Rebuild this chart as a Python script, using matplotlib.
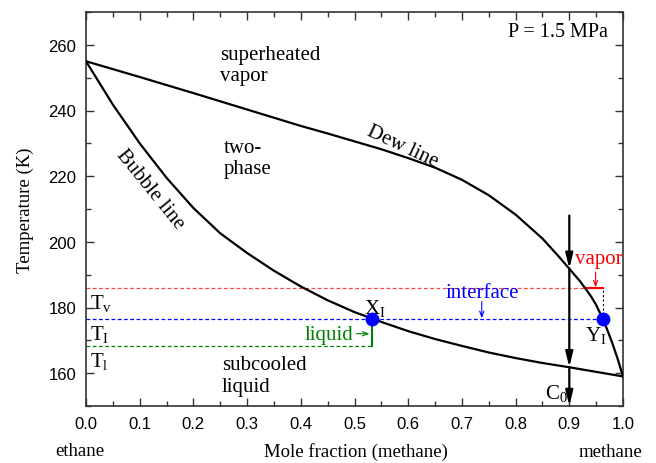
import numpy as np
import matplotlib
matplotlib.use("Agg")
import matplotlib.pyplot as plt
from matplotlib.ticker import MultipleLocator

# ---- data ----
dew_x = [0.0, 0.1, 0.2, 0.3, 0.4, 0.45, 0.5, 0.55, 0.6, 0.65, 0.7, 0.75, 0.8,
         0.85, 0.88, 0.9, 0.92, 0.94, 0.95, 0.96, 0.97, 0.98, 0.99, 1.0]
dew_T = [255.0, 250.2, 245.3, 240.3, 235.3, 233.0, 230.6, 228.2, 225.5, 222.6,
         218.9, 214.2, 208.3, 201.0, 195.6, 191.8, 188.0, 183.5, 180.8, 177.3,
         173.5, 169.2, 164.4, 159.0]
bub_x = [0.0, 0.05, 0.1, 0.15, 0.2, 0.25, 0.3, 0.35, 0.4, 0.45, 0.5, 0.55,
         0.6, 0.65, 0.7, 0.75, 0.8, 0.85, 0.9, 0.95, 1.0]
bub_T = [255.0, 241.8, 230.0, 219.5, 210.3, 202.6, 196.6, 191.2, 186.4, 182.2,
         178.6, 175.6, 172.8, 170.4, 168.3, 166.3, 164.6, 163.1, 161.8, 160.4, 159.0]

T_vapor = 185.9
T_interface = 176.5
T_liquid = 168.2
X_I = 0.532
Y_I = 0.962
C0 = 0.9
C0_top = 208.0
x_ticks = [0.0, 0.1, 0.2, 0.3, 0.4, 0.5, 0.6, 0.7, 0.8, 0.9, 1.0]
y_ticks = [160, 180, 200, 220, 240, 260]

plt.rcParams['mathtext.fontset'] = 'custom'
plt.rcParams['mathtext.rm'] = 'Liberation Serif'
plt.rcParams['mathtext.it'] = 'Liberation Serif'
SERIF = 'Liberation Serif'
SANS = 'Liberation Sans'

fig = plt.figure(figsize=(6.56, 4.64), dpi=100)
ax = fig.add_axes([86/656, 1-407/464, (623-86)/656, (407-13)/464])

ax.plot(dew_x, dew_T, color='black', lw=1.6, zorder=3, solid_joinstyle='round')
ax.plot(bub_x, bub_T, color='black', lw=1.6, zorder=3, solid_joinstyle='round')

# dashed temperature levels
ax.plot([0, Y_I], [T_vapor, T_vapor], color='#ff4444', lw=0.9, ls=(0, (3, 2)), zorder=2)
ax.plot([0, Y_I], [T_interface, T_interface], color='blue', lw=0.9, ls=(0, (3, 2)), zorder=2)
ax.plot([0, X_I], [T_liquid, T_liquid], color='green', lw=0.9, ls=(0, (3, 2)), zorder=2)
ax.plot([X_I, X_I], [T_liquid, T_interface], color='green', lw=1.5, zorder=2)
ax.plot([0.931, Y_I], [T_vapor, T_vapor], color='red', lw=1.5, zorder=2)
ax.plot([Y_I, Y_I], [T_interface, T_vapor], color='black', lw=0.8, ls=(0, (2, 2)), zorder=2)

# interface points
ax.plot([X_I, Y_I], [T_interface, T_interface], 'o', color='blue', ms=9, zorder=5)

# vertical composition line with arrows
T_dew_c = np.interp(C0, dew_x, dew_T)
T_bub_c = np.interp(C0, bub_x, bub_T)
ap = dict(arrowstyle='-|>,head_length=0.9,head_width=0.22', color='black', lw=1.6,
          shrinkA=0, shrinkB=0, mutation_scale=10)
for t0, t1 in [(C0_top, T_dew_c), (T_dew_c, T_bub_c), (T_bub_c, 150.0)]:
    ax.annotate('', xy=(C0, t1), xytext=(C0, t0), arrowprops=ap, zorder=4,
                annotation_clip=False)

# small annotation arrows
ax.annotate('', xy=(0.737, T_interface + 0.2), xytext=(0.737, 181.8),
            arrowprops=dict(arrowstyle='->,head_length=0.4,head_width=0.15', color='blue',
                            lw=0.8, shrinkA=0, shrinkB=0, mutation_scale=10))
ax.annotate('', xy=(0.949, T_vapor + 0.2), xytext=(0.949, 190.8),
            arrowprops=dict(arrowstyle='->,head_length=0.4,head_width=0.15', color='red',
                            lw=0.8, shrinkA=0, shrinkB=0, mutation_scale=10))
ax.annotate('', xy=(X_I - 0.004, 172.0), xytext=(0.503, 172.0),
            arrowprops=dict(arrowstyle='->,head_length=0.4,head_width=0.15', color='green',
                            lw=0.8, shrinkA=0, shrinkB=0, mutation_scale=10))

fs = 15
ax.text(0.955, 194.8, 'vapor', color='red', fontsize=fs, family=SERIF, ha='center', va='center')
ax.text(0.738, 184.7, 'interface', color='blue', fontsize=fs, family=SERIF, ha='center', va='center')
ax.text(0.452, 171.9, 'liquid', color='green', fontsize=fs, family=SERIF, ha='center', va='center')
ax.text(0.518, 180.0, r'X$_\mathrm{I}$', fontsize=fs, family=SERIF, ha='left', va='center')
ax.text(0.930, 171.8, r'Y$_\mathrm{I}$', fontsize=fs, family=SERIF, ha='left', va='center')
ax.text(0.855, 154.0, r'C$_\mathrm{0}$', fontsize=fs, family=SERIF, ha='left', va='center')
ax.text(0.008, 181.6, r'T$_\mathrm{v}$', fontsize=fs, family=SERIF, ha='left', va='center')
ax.text(0.008, 172.2, r'T$_\mathrm{I}$', fontsize=fs, family=SERIF, ha='left', va='center')
ax.text(0.008, 163.9, r'T$_\mathrm{l}$', fontsize=fs, family=SERIF, ha='left', va='center')
ax.text(0.878, 264.1, 'P = 1.5 MPa', fontsize=14.5, family=SERIF, ha='center', va='center')
ax.text(0.25, 253.8, 'superheated\nvapor', fontsize=fs, family=SERIF, ha='left', va='center',
        linespacing=1.1)
ax.text(0.257, 225.5, 'two-\nphase', fontsize=fs, family=SERIF, ha='left', va='center',
        linespacing=1.1)
ax.text(0.253, 159.3, 'subcooled\nliquid', fontsize=fs, family=SERIF, ha='left', va='center',
        linespacing=1.15)
ax.text(0.589, 229.3, 'Dew line', fontsize=fs, family=SERIF, ha='center', va='center',
        rotation=-25, rotation_mode='anchor')
ax.text(0.119, 216.1, 'Bubble line', fontsize=fs, family=SERIF, ha='center', va='center',
        rotation=-51, rotation_mode='anchor')

ax.set_xlim(0, 1.0)
ax.set_ylim(150, 270)
ax.set_xticks(x_ticks)
ax.set_yticks(y_ticks)
ax.set_xticklabels([f'{v:.1f}' for v in x_ticks], family=SANS)
ax.set_yticklabels([str(v) for v in y_ticks], family=SANS)
ax.xaxis.set_minor_locator(MultipleLocator(0.05))
ax.yaxis.set_minor_locator(MultipleLocator(10))
ax.tick_params(which='both', direction='in', top=True, right=True, labelsize=12,
               color='#333333', width=1.0)
ax.tick_params(which='major', length=6, pad=7)
ax.tick_params(which='minor', length=3.5)
for s in ax.spines.values():
    s.set_color('#333333')
    s.set_linewidth(1.2)

ax.set_ylabel('Temperature (K)', fontsize=13.5, family=SERIF, labelpad=10)
fig.text(356/656, 1-452/464, 'Mole fraction (methane)', fontsize=13.5, family=SERIF,
         ha='center', va='center')
fig.text(80/656, 1-452/464, 'ethane', fontsize=13.5, family=SERIF, ha='center', va='center')
fig.text(610/656, 1-453/464, 'methane', fontsize=13.5, family=SERIF, ha='center', va='center')

fig.savefig('out.png', dpi=100)
